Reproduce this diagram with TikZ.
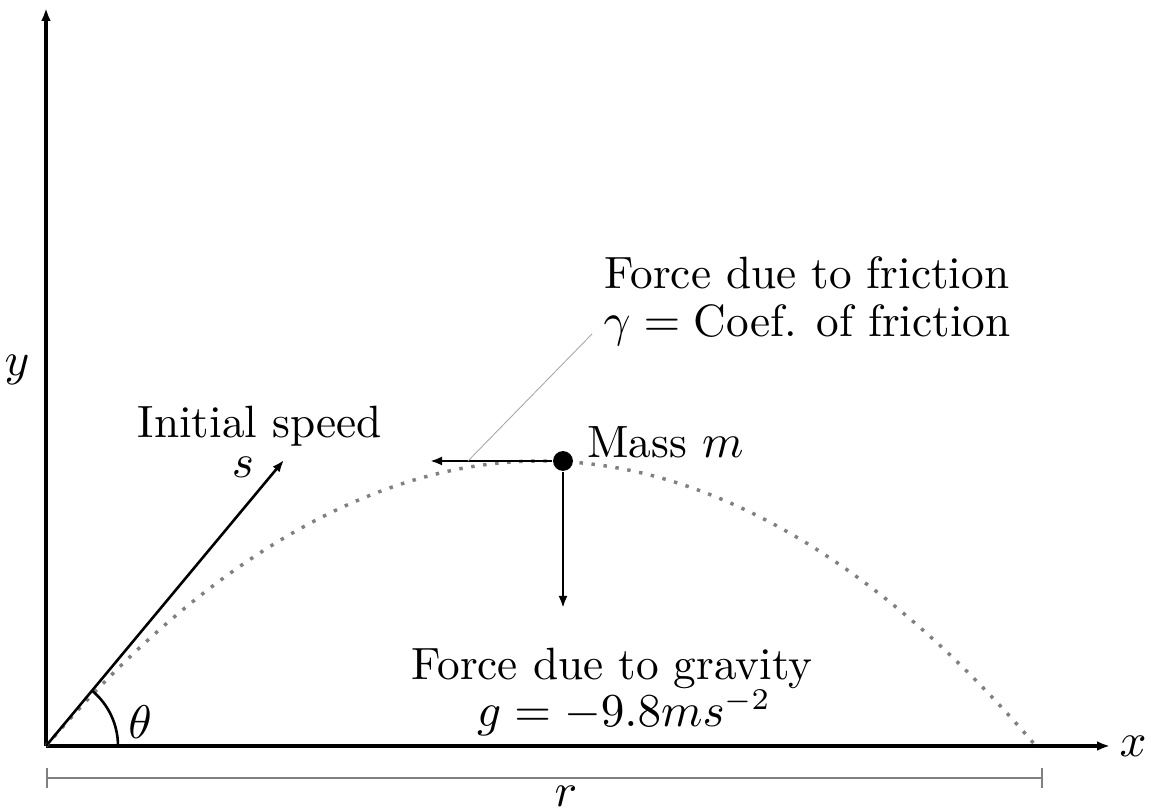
\documentclass[tikz,border=0pt]{standalone}
\usepackage{amsmath}
\usetikzlibrary{arrows.meta,positioning}

\tikzset{
    axis/.style={thick, -{Latex[length=3pt]}},
    vec/.style={semithick, -{Latex[length=2.8pt]}},
    path dots/.style={gray, dotted, thick},
    leader/.style={gray!70, very thin},
    textline/.style={anchor=base, inner sep=0.5pt},
}

\begin{document}
\begin{tikzpicture}[x=0.232pt, y=0.232pt, every node/.style={font=\fontsize{10.5}{10.5}\selectfont}]
    \useasboundingbox (-46,-63) rectangle (1105,746);

    % axes
    \coordinate (O) at (0,0);
    \coordinate (ytip) at (0,738);
    \coordinate (xtip) at (1064,0);
    \draw[axis] (O) -- (ytip);
    \draw[axis] (O) -- (xtip);
    \node (xlab) at (1087,0) {$x$};
    \node (ylab) at (-29,376) {$y$};

    % range
    \coordinate (r0) at (0,-32);
    \coordinate (r1) at (997,-32);
    \draw[gray, |-|] (r0) -- (r1);
    \node (rlab) at (520,-50) {$r$};

    % trajectory
    \coordinate (top) at (495,285);
    \coordinate (land) at (990,0);
    \draw[path dots] (O) parabola bend (top) (land);

    % launch
    \coordinate (stip) at (238,286);
    \draw[vec] (O) -- (stip);
    \draw[semithick] (72,0) arc[start angle=0, end angle=50, radius=72];
    \node (theta) at (94,24) {$\theta$};
    \node[textline] (speedlab) at (214,308) {Initial speed};
    \node[textline] (slab) at (197,268) {$s$};

    % mass and forces
    \node[circle, fill=black, inner sep=0pt, minimum size=4.6pt] (mass) at (517,285) {};
    \node[anchor=west] (masslab) at (526,304) {Mass $m$};
    \coordinate (ftip) at (384,285);
    \coordinate (gtip) at (517,138);
    \draw[vec] (mass) -- (ftip);
    \draw[vec] (mass) -- (gtip);

    \node[textline] (friclab) at (761,457) {Force due to friction};
    \node[textline] (coeflab) at (761,409) {$\gamma=\text{Coef. of friction}$};
    \coordinate (lead0) at (422,285);
    \coordinate (lead1) at (546,412);
    \draw[leader] (lead0) -- (lead1);

    \node[textline] (gravlab) at (566,66) {Force due to gravity};
    \node[textline] (glab) at (578,19) {$g=-9.8ms^{-2}$};
\end{tikzpicture}
\end{document}
